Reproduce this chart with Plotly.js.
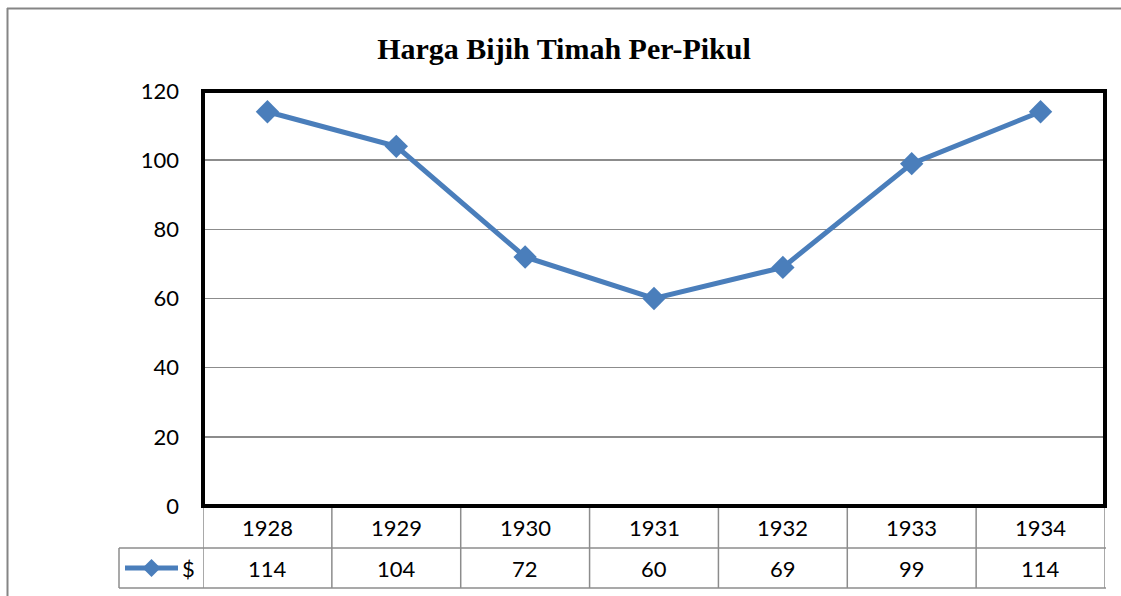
<!DOCTYPE html>
<html>
<head>
<meta charset="utf-8">
<script src="https://cdn.plot.ly/plotly-3.0.1.min.js"></script>
<style>
html,body{margin:0;padding:0;background:#fff;}
#chart{width:1121px;height:596px;}
</style>
</head>
<body>
<div id="chart"></div>
<script>
const years = ["1928","1929","1930","1931","1932","1933","1934"];
const prices = [114, 104, 72, 60, 69, 99, 114];
const seriesName = "$";
const chartTitle = "Harga Bijih Timah Per-Pikul";
const yTicks = [0, 20, 40, 60, 80, 100, 120];

const W = 1121, H = 596;
const L = 203, R = 1105, T = 91, B = 506;
const px = v => (v - L) / (R - L);
const py = v => (B - v) / (B - T);

const blue = "#4A7EBB";
const gridCol = "#8C8C8C";
const tableCol = "#8C8C8C";
const font = "Lato, 'Open Sans', sans-serif";

const trace = {
  x: years, y: prices, type: "scatter", mode: "lines+markers",
  name: seriesName,
  line: {color: blue, width: 5},
  marker: {symbol: "diamond", size: 18, color: blue},
  hoverinfo: "skip", showlegend: false, cliponaxis: false
};

const shapes = [];
const annotations = [];
// outer chart border (grey)
shapes.push({type:"line", xref:"paper", yref:"paper", x0:px(7), x1:px(1130), y0:py(8.5), y1:py(8.5), line:{color:"#858585", width:2}});
shapes.push({type:"line", xref:"paper", yref:"paper", x0:px(7.5), x1:px(7.5), y0:py(8), y1:py(600), line:{color:"#858585", width:2}});

// data table lines
const rowMid = 548, rowBot = 588, legL = 119;
for (let i = 0; i <= years.length; i++) {
  shapes.push({type:"line", xref:"x", yref:"paper", x0:i-0.5, x1:i-0.5, y0:py(B), y1:py(rowBot), line:{color:tableCol, width:1.5}});
}
shapes.push({type:"line", xref:"paper", yref:"paper", x0:px(legL), x1:px(R+1), y0:py(rowMid), y1:py(rowMid), line:{color:tableCol, width:1.5}});
shapes.push({type:"line", xref:"paper", yref:"paper", x0:px(legL), x1:px(R+1), y0:py(rowBot), y1:py(rowBot), line:{color:tableCol, width:1.5}});
shapes.push({type:"line", xref:"paper", yref:"paper", x0:px(legL), x1:px(legL), y0:py(rowMid), y1:py(rowBot), line:{color:tableCol, width:1.5}});

// legend key in table
shapes.push({type:"line", xref:"paper", yref:"paper", x0:px(125), x1:px(178), y0:py(568), y1:py(568), line:{color:blue, width:5}});
shapes.push({type:"path", xref:"paper", yref:"paper",
  path:`M ${px(151.5)} ${py(559)} L ${px(160.5)} ${py(568)} L ${px(151.5)} ${py(577)} L ${px(142.5)} ${py(568)} Z`,
  fillcolor: blue, line:{color:blue, width:0}});
annotations.push({xref:"paper", yref:"paper", x:px(197), y:py(568), text:seriesName, showarrow:false, xanchor:"right", yanchor:"middle", font:{family:font, size:22, color:"#000"}});

years.forEach((yr, i) => {
  annotations.push({xref:"x", yref:"paper", x:i, y:py(527), text:yr, showarrow:false, yanchor:"middle", font:{family:font, size:22, color:"#000"}});
  annotations.push({xref:"x", yref:"paper", x:i, y:py(568), text:String(prices[i]), showarrow:false, yanchor:"middle", font:{family:font, size:22, color:"#000"}});
});

// plot area border (thick black)
shapes.push({type:"rect", xref:"paper", yref:"paper", x0:0, x1:1, y0:0, y1:1, line:{color:"#000", width:4}, layer:"above"});

const layout = {
  width: W, height: H,
  margin: {l: L, r: W - R, t: T, b: H - B, pad: 0},
  paper_bgcolor: "#fff", plot_bgcolor: "#fff",
  title: {text: "<b>" + chartTitle + "</b>", xref: "container", yref: "container", x: 564/W, xanchor: "center", y: 1 - 48/H, yanchor: "middle",
          font: {family: "'Liberation Serif', 'Times New Roman', serif", size: 30, color: "#000"}},
  xaxis: {type: "category", range: [-0.5, years.length - 0.5], showticklabels: false, showgrid: false, zeroline: false, ticks: "", fixedrange: true},
  yaxis: {range: [0, 120], tickvals: yTicks, ticktext: yTicks.map(String), showgrid: true, gridcolor: gridCol, gridwidth: 1.5,
          zeroline: false, ticks: "", ticklabelstandoff: 23, tickfont: {family: font, size: 22, color: "#000"}, fixedrange: true},
  shapes: shapes, annotations: annotations, showlegend: false
};

Plotly.newPlot("chart", [trace], layout, {displayModeBar: false, staticPlot: true});
</script>
</body>
</html>
